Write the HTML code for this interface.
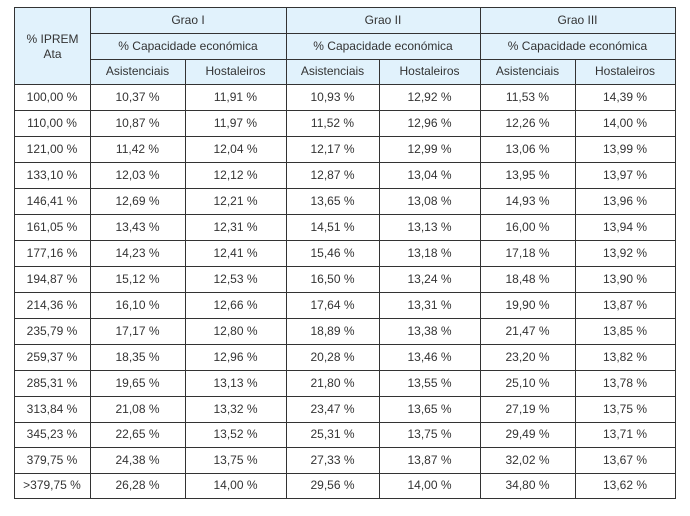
<!DOCTYPE html>
<html>
<head>
<meta charset="utf-8">
<style>
html,body{margin:0;padding:0;background:#fff;}
body{width:690px;height:516px;position:relative;overflow:hidden;font-family:"Liberation Sans",Arial,sans-serif;font-size:12px;color:#333;}
.bg{position:absolute;left:14px;top:7px;width:662px;height:78px;background:#e1f2fc;}
.h{position:absolute;height:1px;background:#333;}
.v{position:absolute;width:1px;background:#333;}
.t{position:absolute;text-align:center;white-space:nowrap;}
.r{position:absolute;left:14px;width:662px;display:flex;}
.r span{display:block;text-align:center;white-space:nowrap;}
.r span:nth-child(1){width:76px;}
.r span:nth-child(2){width:95px;}
.r span:nth-child(3){width:101px;}
.r span:nth-child(4){width:93px;}
.r span:nth-child(5){width:101px;}
.r span:nth-child(6){width:95px;}
.r span:nth-child(7){width:100px;}
</style>
</head>
<body>
<div class="bg"></div>

<!-- header text -->
<div class="t" style="left:14px;top:32px;width:77px;line-height:15px;">% IPREM<br>Ata</div>
<div class="t" style="left:90px;top:7px;width:196px;line-height:26px;">Grao I</div>
<div class="t" style="left:286px;top:7px;width:194px;line-height:26px;">Grao II</div>
<div class="t" style="left:480px;top:7px;width:195px;line-height:26px;">Grao III</div>
<div class="t" style="left:90px;top:33px;width:196px;line-height:26px;">% Capacidade económica</div>
<div class="t" style="left:286px;top:33px;width:194px;line-height:26px;">% Capacidade económica</div>
<div class="t" style="left:480px;top:33px;width:195px;line-height:26px;">% Capacidade económica</div>
<div class="t" style="left:90px;top:59px;width:95px;line-height:25px;">Asistenciais</div>
<div class="t" style="left:185px;top:59px;width:101px;line-height:25px;">Hostaleiros</div>
<div class="t" style="left:286px;top:59px;width:93px;line-height:25px;">Asistenciais</div>
<div class="t" style="left:379px;top:59px;width:101px;line-height:25px;">Hostaleiros</div>
<div class="t" style="left:480px;top:59px;width:95px;line-height:25px;">Asistenciais</div>
<div class="t" style="left:575px;top:59px;width:100px;line-height:25px;">Hostaleiros</div>

<!-- data rows -->
<div class="r" style="top:84px;line-height:26px;"><span>100,00 %</span><span>10,37 %</span><span>11,91 %</span><span>10,93 %</span><span>12,92 %</span><span>11,53 %</span><span>14,39 %</span></div>
<div class="r" style="top:110px;line-height:26px;"><span>110,00 %</span><span>10,87 %</span><span>11,97 %</span><span>11,52 %</span><span>12,96 %</span><span>12,26 %</span><span>14,00 %</span></div>
<div class="r" style="top:136px;line-height:26px;"><span>121,00 %</span><span>11,42 %</span><span>12,04 %</span><span>12,17 %</span><span>12,99 %</span><span>13,06 %</span><span>13,99 %</span></div>
<div class="r" style="top:162px;line-height:26px;"><span>133,10 %</span><span>12,03 %</span><span>12,12 %</span><span>12,87 %</span><span>13,04 %</span><span>13,95 %</span><span>13,97 %</span></div>
<div class="r" style="top:188px;line-height:26px;"><span>146,41 %</span><span>12,69 %</span><span>12,21 %</span><span>13,65 %</span><span>13,08 %</span><span>14,93 %</span><span>13,96 %</span></div>
<div class="r" style="top:214px;line-height:26px;"><span>161,05 %</span><span>13,43 %</span><span>12,31 %</span><span>14,51 %</span><span>13,13 %</span><span>16,00 %</span><span>13,94 %</span></div>
<div class="r" style="top:240px;line-height:26px;"><span>177,16 %</span><span>14,23 %</span><span>12,41 %</span><span>15,46 %</span><span>13,18 %</span><span>17,18 %</span><span>13,92 %</span></div>
<div class="r" style="top:266px;line-height:26px;"><span>194,87 %</span><span>15,12 %</span><span>12,53 %</span><span>16,50 %</span><span>13,24 %</span><span>18,48 %</span><span>13,90 %</span></div>
<div class="r" style="top:292px;line-height:26px;"><span>214,36 %</span><span>16,10 %</span><span>12,66 %</span><span>17,64 %</span><span>13,31 %</span><span>19,90 %</span><span>13,87 %</span></div>
<div class="r" style="top:318px;line-height:26px;"><span>235,79 %</span><span>17,17 %</span><span>12,80 %</span><span>18,89 %</span><span>13,38 %</span><span>21,47 %</span><span>13,85 %</span></div>
<div class="r" style="top:344px;line-height:26px;"><span>259,37 %</span><span>18,35 %</span><span>12,96 %</span><span>20,28 %</span><span>13,46 %</span><span>23,20 %</span><span>13,82 %</span></div>
<div class="r" style="top:370px;line-height:26px;"><span>285,31 %</span><span>19,65 %</span><span>13,13 %</span><span>21,80 %</span><span>13,55 %</span><span>25,10 %</span><span>13,78 %</span></div>
<div class="r" style="top:396px;line-height:26px;"><span>313,84 %</span><span>21,08 %</span><span>13,32 %</span><span>23,47 %</span><span>13,65 %</span><span>27,19 %</span><span>13,75 %</span></div>
<div class="r" style="top:422px;line-height:25px;"><span>345,23 %</span><span>22,65 %</span><span>13,52 %</span><span>25,31 %</span><span>13,75 %</span><span>29,49 %</span><span>13,71 %</span></div>
<div class="r" style="top:447px;line-height:26px;"><span>379,75 %</span><span>24,38 %</span><span>13,75 %</span><span>27,33 %</span><span>13,87 %</span><span>32,02 %</span><span>13,67 %</span></div>
<div class="r" style="top:473px;line-height:25px;"><span>&gt;379,75 %</span><span>26,28 %</span><span>14,00 %</span><span>29,56 %</span><span>14,00 %</span><span>34,80 %</span><span>13,62 %</span></div>

<!-- horizontal lines -->
<div class="h" style="left:14px;top:7px;width:662px;"></div>
<div class="h" style="left:90px;top:33px;width:586px;"></div>
<div class="h" style="left:90px;top:59px;width:586px;"></div>
<div class="h" style="left:14px;top:84px;width:662px;"></div>
<div class="h" style="left:14px;top:110px;width:662px;"></div>
<div class="h" style="left:14px;top:136px;width:662px;"></div>
<div class="h" style="left:14px;top:162px;width:662px;"></div>
<div class="h" style="left:14px;top:188px;width:662px;"></div>
<div class="h" style="left:14px;top:214px;width:662px;"></div>
<div class="h" style="left:14px;top:240px;width:662px;"></div>
<div class="h" style="left:14px;top:266px;width:662px;"></div>
<div class="h" style="left:14px;top:292px;width:662px;"></div>
<div class="h" style="left:14px;top:318px;width:662px;"></div>
<div class="h" style="left:14px;top:344px;width:662px;"></div>
<div class="h" style="left:14px;top:370px;width:662px;"></div>
<div class="h" style="left:14px;top:396px;width:662px;"></div>
<div class="h" style="left:14px;top:422px;width:662px;"></div>
<div class="h" style="left:14px;top:447px;width:662px;"></div>
<div class="h" style="left:14px;top:473px;width:662px;"></div>
<div class="h" style="left:14px;top:498px;width:662px;"></div>

<!-- vertical lines -->
<div class="v" style="left:14px;top:7px;height:492px;"></div>
<div class="v" style="left:90px;top:7px;height:492px;"></div>
<div class="v" style="left:286px;top:7px;height:492px;"></div>
<div class="v" style="left:480px;top:7px;height:492px;"></div>
<div class="v" style="left:675px;top:7px;height:492px;"></div>
<div class="v" style="left:185px;top:59px;height:440px;"></div>
<div class="v" style="left:379px;top:59px;height:440px;"></div>
<div class="v" style="left:575px;top:59px;height:440px;"></div>
</body>
</html>
